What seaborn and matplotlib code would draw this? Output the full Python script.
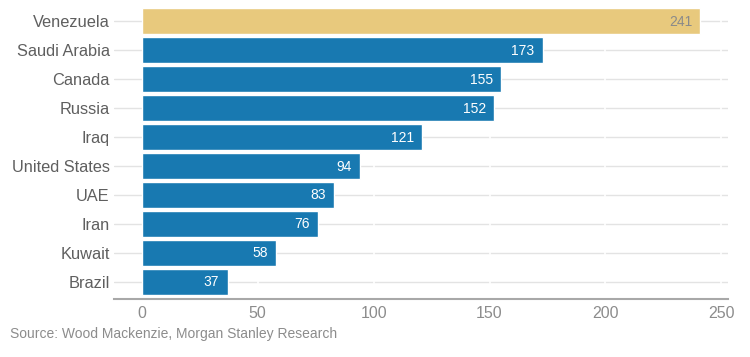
import matplotlib
matplotlib.use('Agg')
import matplotlib.pyplot as plt
import seaborn as sns
import pandas as pd

# Data
countries = ['Venezuela', 'Saudi Arabia', 'Canada', 'Russia', 'Iraq',
             'United States', 'UAE', 'Iran', 'Kuwait', 'Brazil']
values = [241, 173, 155, 152, 121, 94, 83, 76, 58, 37]
highlight = 'Venezuela'
x_ticks = [0, 50, 100, 150, 200, 250]
source_text = 'Source: Wood Mackenzie, Morgan Stanley Research'

df = pd.DataFrame({'country': countries, 'value': values})

blue = '#1879b1'
gold = '#e8c97d'
palette = {c: (gold if c == highlight else blue) for c in countries}

sns.set_style('white')
plt.rcParams['font.family'] = ['Liberation Sans', 'DejaVu Sans']

fig = plt.figure(figsize=(7.5, 3.57), dpi=100)
ax = fig.add_axes([0.152, 0.1625, 0.819, 0.823])

# Light horizontal grid lines behind the bars, broken by white verticals
for i in range(len(countries)):
    ax.axhline(i, color='#e3e3e3', lw=1.0, zorder=0)
for t in x_ticks[1:]:
    ax.axvline(t, color='white', lw=1.2, zorder=0.5)

sns.barplot(data=df, x='value', y='country', hue='country', palette=palette,
            order=countries, hue_order=countries, legend=False,
            width=0.9, saturation=1, ax=ax, zorder=2)

# Value labels inside the bar ends
for i, (c, v) in enumerate(zip(countries, values)):
    ax.annotate(str(v), xy=(v, i), xytext=(-6, -0.5), textcoords='offset points',
                ha='right', va='center', fontsize=10,
                color='#8a8a8a' if c == highlight else 'white', zorder=3)

ax.set_xlim(-12, 253)
ax.set_ylim(9.6, -0.55)
ax.set_xticks(x_ticks)
ax.set_xlabel('')
ax.set_ylabel('')
ax.tick_params(axis='x', length=0, pad=5, labelsize=11.5, labelcolor='#8c8c8c')
ax.tick_params(axis='y', length=0, pad=3, labelsize=11.8, labelcolor='#5f5f5f')

for side in ['top', 'right', 'left']:
    ax.spines[side].set_visible(False)
ax.spines['bottom'].set_color('#a8a8a8')
ax.spines['bottom'].set_linewidth(1.5)

fig.text(0.013, 0.065, source_text, fontsize=10, color='#8c8c8c', ha='left', va='center')

fig.savefig('out.png', dpi=100)
